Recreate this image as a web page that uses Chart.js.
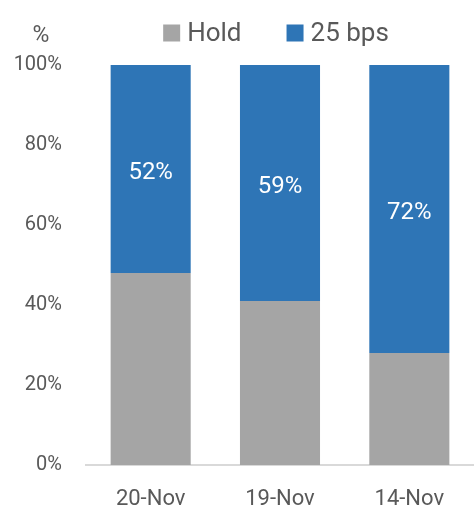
<!DOCTYPE html>
<html lang="en">
<head>
  <meta charset="UTF-8" />
  <title>Rate expectations</title>
  <script src="https://cdn.jsdelivr.net/npm/chart.js"></script>
  <style>
    html, body { margin: 0; padding: 0; background: #fff; }
    #wrap { width: 474px; height: 513px; position: relative; }
  </style>
</head>
<body>
  <div id="wrap"><canvas id="rateChart"></canvas></div>

  <script>
    // chart data
    const categories = ['20-Nov', '19-Nov', '14-Nov'];
    const holdValues = [48, 41, 28];
    const cutValues = [52, 59, 72];
    const yTicks = [0, 20, 40, 60, 80, 100];

    const holdColor = '#a5a5a5';
    const cutColor = '#2e75b6';
    const textColor = '#595959';
    const fontFamily = "Roboto, 'Liberation Sans', sans-serif";

    // white % labels in the middle of the blue segments
    const segmentLabels = {
      id: 'segmentLabels',
      afterDatasetsDraw(chart) {
        const ctx = chart.ctx;
        const meta = chart.getDatasetMeta(1);
        ctx.save();
        ctx.fillStyle = '#ffffff';
        ctx.font = '24px ' + fontFamily;
        ctx.textAlign = 'center';
        ctx.textBaseline = 'middle';
        meta.data.forEach((bar, i) => {
          const mid = (bar.y + bar.base) / 2;
          ctx.fillText(cutValues[i] + '%', bar.x, mid + 4);
        });
        ctx.restore();
      }
    };

    // "%" unit and the legend along the top
    const topText = {
      id: 'topText',
      afterDraw(chart) {
        const ctx = chart.ctx;
        const area = chart.chartArea;
        ctx.save();
        ctx.fillStyle = textColor;
        ctx.textBaseline = 'middle';

        ctx.font = '23px ' + fontFamily;
        ctx.textAlign = 'center';
        ctx.fillText('%', 41, area.top - 29);

        ctx.font = '26px ' + fontFamily;
        ctx.textAlign = 'left';
        const items = chart.data.datasets.map(ds => ({
          label: ds.label,
          color: ds.backgroundColor,
          w: ctx.measureText(ds.label).width
        }));
        const box = 17, gapText = 7, gapItem = 45;
        let total = 0;
        items.forEach((it, i) => { total += box + gapText + it.w + (i < items.length - 1 ? gapItem : 0); });
        let x = (area.left + area.right) / 2 - 4 - total / 2;
        const cy = area.top - 32;
        items.forEach(it => {
          ctx.fillStyle = it.color;
          ctx.fillRect(x, cy - box / 2, box, box);
          ctx.fillStyle = textColor;
          ctx.fillText(it.label, x + box + gapText, cy + 1);
          x += box + gapText + it.w + gapItem;
        });
        ctx.restore();
      }
    };

    const ctx = document.getElementById('rateChart').getContext('2d');
    new Chart(ctx, {
      type: 'bar',
      data: {
        labels: categories,
        datasets: [
          { label: 'Hold', data: holdValues, backgroundColor: holdColor },
          { label: '25 bps', data: cutValues, backgroundColor: cutColor }
        ]
      },
      options: {
        responsive: true,
        maintainAspectRatio: false,
        animation: false,
        layout: { padding: { left: 0, right: 0, top: 65, bottom: 0 } },
        datasets: {
          bar: { categoryPercentage: 1, barPercentage: 0.619 }
        },
        scales: {
          x: {
            stacked: true,
            grid: { display: false },
            border: { display: true, color: '#d9d9d9', width: 2 },
            ticks: { color: textColor, font: { family: fontFamily, size: 22 }, padding: 13 },
            afterFit(scale) { scale.height = 48; }
          },
          y: {
            stacked: true,
            min: 0,
            max: 100,
            afterBuildTicks(scale) {
              scale.ticks = yTicks.map(v => ({ value: v }));
            },
            grid: { display: false, drawTicks: false },
            border: { display: false },
            ticks: {
              color: textColor,
              font: { family: fontFamily, size: 20 },
              padding: 24,
              callback: v => v + '%'
            },
            afterFit(scale) { scale.width = 86; }
          }
        },
        plugins: {
          legend: { display: false },
          tooltip: { enabled: false }
        }
      },
      plugins: [segmentLabels, topText]
    });
  </script>
</body>
</html>
